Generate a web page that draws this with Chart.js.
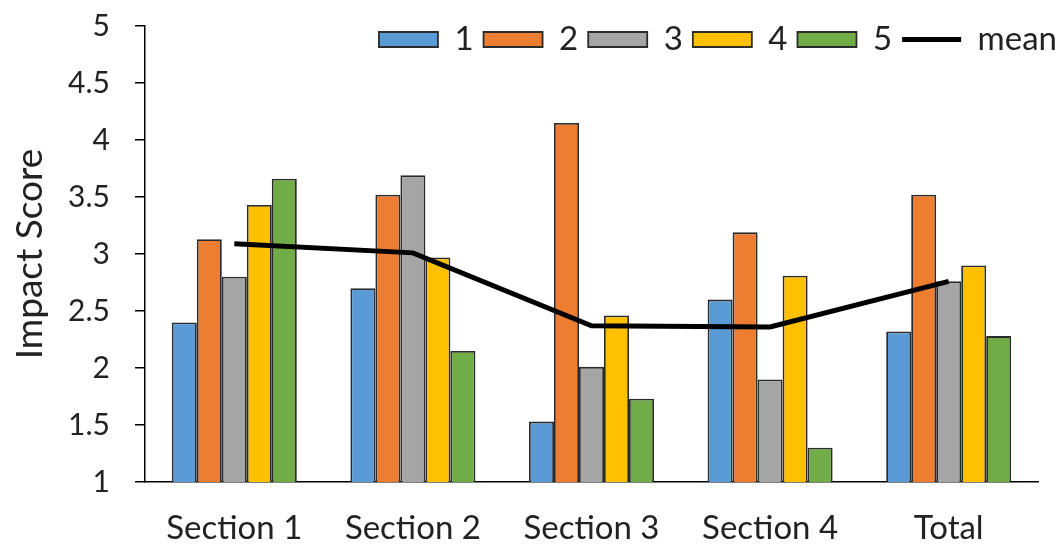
<!DOCTYPE html>
<html>
<head>
<meta charset="utf-8">
<script src="https://cdn.jsdelivr.net/npm/chart.js@4"></script>
<style>
  html, body { margin: 0; padding: 0; background: #fff; }
  #wrap { width: 1062px; height: 545px; }
</style>
</head>
<body>
<div id="wrap"><canvas id="impact-chart" width="1062" height="545"></canvas></div>
<script>
// values
const sections = ['Section 1', 'Section 2', 'Section 3', 'Section 4', 'Total'];
const score1 = [2.40, 2.70, 1.53, 2.60, 2.32];
const score2 = [3.13, 3.52, 4.15, 3.19, 3.52];
const score3 = [2.80, 3.69, 2.01, 1.90, 2.76];
const score4 = [3.43, 2.97, 2.46, 2.81, 2.90];
const score5 = [3.66, 2.15, 1.73, 1.30, 2.28];
const meanScore = [3.09, 3.01, 2.37, 2.36, 2.76];
const yTicks = [1, 1.5, 2, 2.5, 3, 3.5, 4, 4.5, 5];

const FONT = 'Lato';

const barSet = (label, data, color) => ({
  type: 'bar',
  label: label,
  data: data,
  backgroundColor: color,
  borderColor: '#2b2b2b',
  borderWidth: 1.8,
  barPercentage: 1,
  categoryPercentage: 0.7,
  pointStyle: 'rect',
  order: 1
});

// legend sits inside the plot, so it must not take any layout height
const legendInPlot = {
  id: 'legendInPlot',
  beforeInit(chart) {
    const lg = chart.legend;
    const fit = lg.fit;
    lg.fit = function () { fit.call(this); this._fullH = this.height; this.height = 0; };
  },
  afterLayout(chart) {
    const lg = chart.legend;
    lg.left += 29;
    lg.right += 29;
    lg.top = 13;
    lg.bottom = lg.top + lg._fullH;
  }
};

new Chart(document.getElementById('impact-chart'), {
  data: {
    labels: sections,
    datasets: [
      barSet('1', score1, '#5B9BD5'),
      barSet('2', score2, '#ED7D31'),
      barSet('3', score3, '#A5A5A5'),
      barSet('4', score4, '#FFC000'),
      barSet('5', score5, '#70AD47'),
      {
        type: 'line',
        label: 'mean',
        data: meanScore,
        borderColor: '#000',
        backgroundColor: '#000',
        borderWidth: 5,
        pointRadius: 0,
        pointStyle: 'line',
        tension: 0,
        order: 0
      }
    ]
  },
  options: {
    responsive: false,
    animation: false,
    layout: { padding: { top: 26, right: 24, left: 6, bottom: 0 } },
    plugins: {
      tooltip: { enabled: false },
      legend: {
        position: 'top',
        align: 'end',
        labels: {
          usePointStyle: true,
          pointStyleWidth: 59,
          boxHeight: 15,
          padding: 10,
          color: '#222',
          font: { family: FONT, size: 33 },
          sort: (a, b) => a.datasetIndex - b.datasetIndex
        }
      }
    },
    scales: {
      x: {
        grid: { display: false, drawTicks: false },
        border: { display: true, color: '#000', width: 1.5 },
        ticks: { color: '#222', padding: 27, font: { family: FONT, size: 33 } },
        afterFit: (axis) => { axis.height = 63; }
      },
      y: {
        min: 1,
        max: 5,
        afterBuildTicks: (axis) => { axis.ticks = yTicks.map(v => ({ value: v })); },
        afterFit: (axis) => { axis.width = 139; axis.paddingTop = 0; axis.paddingBottom = 0; },
        grid: { drawOnChartArea: false, drawTicks: true, tickLength: 10, color: '#000', lineWidth: 1.5 },
        border: { display: true, color: '#000', width: 1.5 },
        ticks: { color: '#222', padding: 25, font: { family: FONT, size: 30 }, callback: (v) => String(v) },
        title: { display: true, text: 'Impact Score', color: '#222', padding: 2, font: { family: FONT, size: 37 } }
      }
    }
  },
  plugins: [legendInPlot]
});
</script>
</body>
</html>
